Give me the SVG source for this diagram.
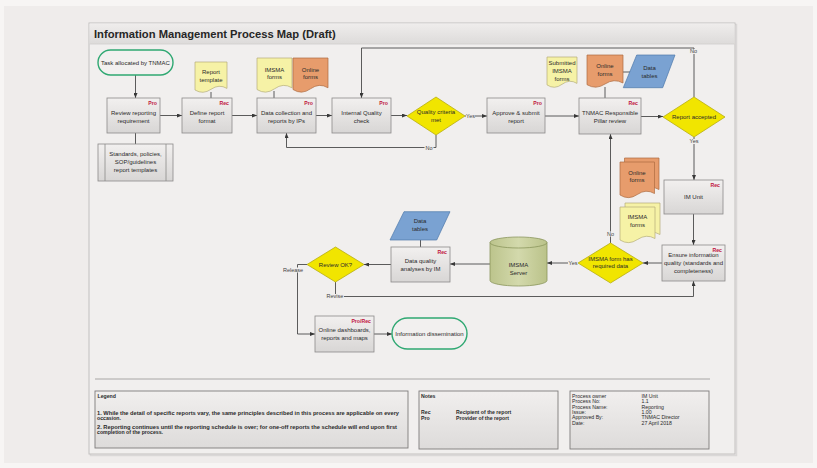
<svg xmlns="http://www.w3.org/2000/svg" width="817" height="468" viewBox="0 0 817 468">
  <defs>
    <linearGradient id="gBox" x1="0" y1="0" x2="0" y2="1">
      <stop offset="0" stop-color="#f2f0ef"/>
      <stop offset="1" stop-color="#d8d6d5"/>
    </linearGradient>
    <linearGradient id="gTitle" x1="0" y1="0" x2="0" y2="1">
      <stop offset="0" stop-color="#efedec"/>
      <stop offset="1" stop-color="#dddbda"/>
    </linearGradient>
    <linearGradient id="gFoot" x1="0" y1="0" x2="0" y2="1">
      <stop offset="0" stop-color="#f1efee"/>
      <stop offset="1" stop-color="#dddbda"/>
    </linearGradient>
    <linearGradient id="gCyl" x1="0" y1="0" x2="1" y2="0">
      <stop offset="0" stop-color="#bcc48c"/>
      <stop offset="0.5" stop-color="#d3d9ac"/>
      <stop offset="1" stop-color="#bac289"/>
    </linearGradient>
    <marker id="ah" viewBox="0 0 10 8" refX="10" refY="4" markerWidth="5" markerHeight="4" markerUnits="userSpaceOnUse" orient="auto">
      <path d="M0 0 L10 4 L0 8 Z" fill="#383838"/>
    </marker>
    <style>
      .box{fill:url(#gBox);stroke:#8c8a89;stroke-width:0.8}
      .t{font-family:"Liberation Sans",Arial,sans-serif;font-size:6px;fill:#2a2a2a;text-anchor:middle}
      .tag{font-family:"Liberation Sans",Arial,sans-serif;font-size:5.2px;font-weight:bold;fill:#c0143c;text-anchor:end}
      .ln{stroke:#4a4a4a;stroke-width:0.9;fill:none}
      .arr{marker-end:url(#ah)}
      .lbl{font-family:"Liberation Sans",Arial,sans-serif;font-size:5.5px;fill:#444;text-anchor:middle}
      .lbg{fill:#f0eeed}
      .dia{fill:#f1e500;stroke:#b8ad10;stroke-width:0.8}
      .docY{fill:#f6f2a6;stroke:#b4ae78;stroke-width:0.7}
      .docO{fill:#e79c6c;stroke:#ad6b40;stroke-width:0.7}
      .par{fill:#7aa2d2;stroke:#4e79aa;stroke-width:0.7}
      .term{fill:#f2f0ef;stroke:#2fa872;stroke-width:1.4}
      .ft{font-family:"Liberation Sans",Arial,sans-serif;font-size:5.2px;fill:#2a2a2a}
      .fb{font-weight:bold}
      .fbox{fill:url(#gFoot);stroke:#7e7c7b;stroke-width:0.9}
    </style>
  </defs>

  <!-- page -->
  <rect x="0" y="0" width="817" height="468" fill="#f7f5f4"/>
  <rect x="4" y="6" width="809" height="457" fill="#efeceb"/>

  <!-- sheet frame with title bar -->
  <rect x="90.5" y="24.5" width="646" height="431" fill="none" stroke="#dad8d7" stroke-width="1.5"/>
  <rect x="89" y="23" width="646" height="431" fill="#f1efee" stroke="#c2c0bf" stroke-width="1"/>
  <rect x="89.5" y="23.5" width="645" height="20.5" fill="url(#gTitle)"/>
  <line x1="89.5" y1="44" x2="734.5" y2="44" stroke="#d0cecd" stroke-width="0.8"/>
  <text x="94" y="37.8" font-family="Liberation Sans,Arial,sans-serif" font-size="11.2" font-weight="bold" fill="#262626">Information Management Process Map (Draft)</text>

  <!-- connectors -->
  <g id="connectors">
    <path class="ln arr" d="M135.5 75 V98"/>
    <path class="ln" d="M135.5 133 V144"/>
    <path class="ln arr" d="M160 115.5 H182"/>
    <path class="ln arr" d="M232 115.5 H257"/>
    <path class="ln arr" d="M316 115.5 H332"/>
    <path class="ln arr" d="M391 115.5 H407"/>
    <path class="ln arr" d="M465 116 H487"/>
    <path class="ln arr" d="M545 116 H579"/>
    <path class="ln arr" d="M641 116.5 H663"/>
    <path class="ln arr" d="M694 97 V48 H361.5 V98"/>
    <path class="ln arr" d="M436 135 V147.5 H286.5 V133"/>
    <path class="ln arr" d="M694 137 V180"/>
    <path class="ln arr" d="M693.5 214 V245"/>
    <path class="ln arr" d="M662 263 H643"/>
    <path class="ln arr" d="M610.5 243 V134"/>
    <path class="ln arr" d="M578 263 H547"/>
    <path class="ln arr" d="M490 264 H450"/>
    <path class="ln arr" d="M391 264.5 H364"/>
    <path class="ln arr" d="M307 264.5 H297.5 V334 H315"/>
    <path class="ln arr" d="M374 334 H392"/>
    <path class="ln arr" d="M335.5 282 V296.5 H693.5 V281"/>
    <!-- data attachments -->
    <path class="ln" d="M211 92 V98"/>
    <path class="ln" d="M274 91 V98"/>
    <path class="ln" d="M605 87 V98"/>
    <path class="ln" d="M623 72 H630"/>
    <path class="ln" d="M420.5 240 V247"/>
    <!-- connector labels -->
    <rect class="lbg" x="689" y="49" width="9" height="5"/>
    <text class="lbl" x="693.5" y="53">No</text>
    <rect class="lbg" x="466" y="113.5" width="9" height="5"/>
    <text class="lbl" x="470.5" y="117.8">Yes</text>
    <rect class="lbg" x="424.5" y="145" width="9" height="5"/>
    <text class="lbl" x="429" y="149.5">No</text>
    <rect class="lbg" x="689" y="139" width="10" height="5"/>
    <text class="lbl" x="694" y="143.3">Yes</text>
    <rect class="lbg" x="606" y="231.5" width="9" height="5"/>
    <text class="lbl" x="610.5" y="236">No</text>
    <rect class="lbg" x="568" y="260.5" width="10" height="5"/>
    <text class="lbl" x="573" y="264.8">Yes</text>
    <rect class="lbg" x="283" y="267.5" width="20" height="5"/>
    <text class="lbl" x="293" y="271.8">Release</text>
    <rect class="lbg" x="326" y="294" width="18" height="5"/>
    <text class="lbl" x="335" y="298.3">Revise</text>
  </g>

  <!-- start terminal -->
  <g id="task-allocated">
    <rect class="term" x="98" y="50" width="75" height="25" rx="12.5"/>
    <text class="t" x="135.5" y="64.5">Task allocated by TNMAC</text>
  </g>

  <g id="review-requirement">
    <rect class="box" x="107" y="98" width="53" height="35"/>
    <text class="tag" x="157" y="105">Pro</text>
    <text class="t" x="133.5" y="114.5">Review reporting</text>
    <text class="t" x="133.5" y="122.5">requirement</text>
  </g>

  <g id="standards">
    <rect class="box" x="98" y="144" width="75" height="37"/>
    <line x1="105" y1="144" x2="105" y2="181" stroke="#8c8a89" stroke-width="0.8"/>
    <line x1="166" y1="144" x2="166" y2="181" stroke="#8c8a89" stroke-width="0.8"/>
    <text class="t" x="135.5" y="156">Standards, policies,</text>
    <text class="t" x="135.5" y="164">SOP/guidelines</text>
    <text class="t" x="135.5" y="172">report templates</text>
  </g>

  <g id="report-template">
    <path class="docY" d="M195 62 H227 V88.4 Q219 83.7 211 89.3 T195 90 Z"/>
    <text class="t" x="211" y="73.8">Report</text>
    <text class="t" x="211" y="82">template</text>
  </g>

  <g id="define-format">
    <rect class="box" x="182" y="98" width="50" height="35"/>
    <text class="tag" x="229" y="105">Rec</text>
    <text class="t" x="207" y="114.5">Define report</text>
    <text class="t" x="207" y="122.5">format</text>
  </g>

  <g id="imsma-forms-ips">
    <path class="docY" d="M257 58 H292 V87.8 Q283.3 82.5 274.5 88.8 T257 89.5 Z"/>
    <text class="t" x="274.5" y="71.5">IMSMA</text>
    <text class="t" x="274.5" y="79.3">forms</text>
  </g>

  <g id="online-forms-ips">
    <path class="docO" d="M293 58 H328 V87.8 Q319.3 82.5 310.5 88.8 T293 89.5 Z"/>
    <text class="t" x="310.5" y="71.5">Online</text>
    <text class="t" x="310.5" y="79.3">forms</text>
  </g>

  <g id="data-collection">
    <rect class="box" x="257" y="98" width="59" height="35"/>
    <text class="tag" x="313" y="105">Pro</text>
    <text class="t" x="286.5" y="114.5">Data collection and</text>
    <text class="t" x="286.5" y="122.5">reports by IPs</text>
  </g>

  <g id="internal-quality">
    <rect class="box" x="332" y="98" width="59" height="35"/>
    <text class="tag" x="388" y="105">Pro</text>
    <text class="t" x="361.5" y="114.5">Internal Quality</text>
    <text class="t" x="361.5" y="122.5">check</text>
  </g>

  <g id="quality-criteria">
    <polygon class="dia" points="407,116 436,97 465,116 436,135"/>
    <text class="t" x="436" y="114.3">Quality criteria</text>
    <text class="t" x="436" y="122">met</text>
  </g>

  <g id="approve-submit">
    <rect class="box" x="487" y="98" width="58" height="35"/>
    <text class="tag" x="542" y="105">Pro</text>
    <text class="t" x="516" y="114.5">Approve &amp; submit</text>
    <text class="t" x="516" y="122.5">report</text>
  </g>

  <g id="submitted-imsma-forms">
    <path class="docY" d="M547 57 H577 V83.4 Q569.5 78.7 562 84.3 T547 84.9 Z"/>
    <text class="t" x="562" y="64.8">Submitted</text>
    <text class="t" x="562" y="72.8">IMSMA</text>
    <text class="t" x="562" y="80.8">forms</text>
  </g>

  <g id="online-forms-pillar">
    <path class="docO" d="M587 55 H623 V83 Q614 78 605 84 T587 84.7 Z"/>
    <text class="t" x="605" y="68.2">Online</text>
    <text class="t" x="605" y="76.2">forms</text>
  </g>

  <g id="data-tables-pillar">
    <polygon class="par" points="636.7,55 675,55 662.7,87.7 623.3,87.7"/>
    <text class="t" x="649.5" y="69.5">Data</text>
    <text class="t" x="649.5" y="77.8">tables</text>
  </g>

  <g id="pillar-review">
    <rect class="box" x="579" y="98" width="62" height="36"/>
    <text class="tag" x="638" y="105">Rec</text>
    <text class="t" x="610" y="114.5">TNMAC Responsible</text>
    <text class="t" x="610" y="122.5">Pillar review</text>
  </g>

  <g id="report-accepted">
    <polygon class="dia" points="663,117 694,97 725,117 694,137"/>
    <text class="t" x="694" y="118.8">Report accepted</text>
  </g>

  <g id="im-unit">
    <rect class="box" x="664" y="180" width="59" height="34"/>
    <text class="tag" x="720" y="187">Rec</text>
    <text class="t" x="693.5" y="199">IM Unit</text>
  </g>

  <g id="online-forms-stack">
    <path class="docO" d="M624.5 158 H659 V189.5 Q650.4 184.5 641.8 190.5 T624.5 191 Z"/>
    <path class="docO" d="M620 162 H654.5 V193.5 Q645.9 188.5 637.3 194.5 T620 195 Z"/>
    <text class="t" x="637" y="174.5">Online</text>
    <text class="t" x="637" y="182.2">forms</text>
  </g>

  <g id="imsma-forms-stack">
    <path class="docY" d="M625 203 H660 V234.5 Q651.3 229.5 642.5 235.5 T625 236 Z"/>
    <path class="docY" d="M620 207 H655 V238.5 Q646.3 233.5 637.5 239.5 T620 240 Z"/>
    <text class="t" x="637.5" y="219">IMSMA</text>
    <text class="t" x="637.5" y="226.7">forms</text>
  </g>

  <g id="ensure-quality">
    <rect class="box" x="662" y="245" width="63" height="36"/>
    <text class="tag" x="722" y="251.5">Rec</text>
    <text class="t" x="693.5" y="257.2">Ensure information</text>
    <text class="t" x="693.5" y="264.9">quality (standards and</text>
    <text class="t" x="693.5" y="272.5">completeness)</text>
  </g>

  <g id="imsma-required-data">
    <polygon class="dia" points="578,263 610.5,243 643,263 610.5,283"/>
    <text class="t" x="610.5" y="260.5">IMSMA form has</text>
    <text class="t" x="610.5" y="268.2">required data</text>
  </g>

  <g id="imsma-server">
    <path d="M490 242.5 A28.5 5.5 0 0 1 547 242.5 V280.5 A28.5 5.5 0 0 1 490 280.5 Z" fill="url(#gCyl)" stroke="#8a955c" stroke-width="0.8"/>
    <path d="M490 242.5 A28.5 5.5 0 0 0 547 242.5" fill="none" stroke="#8a955c" stroke-width="0.8"/>
    <text class="t" x="518.5" y="267">IMSMA</text>
    <text class="t" x="518.5" y="275">Server</text>
  </g>

  <g id="data-tables-im">
    <polygon class="par" points="404,211.7 450,211.7 436.7,240 390,240"/>
    <text class="t" x="420" y="223">Data</text>
    <text class="t" x="420" y="231">tables</text>
  </g>

  <g id="data-quality-analyses">
    <rect class="box" x="391" y="247" width="59" height="35"/>
    <text class="tag" x="447" y="254">Rec</text>
    <text class="t" x="420.5" y="263">Data quality</text>
    <text class="t" x="420.5" y="271">analyses by IM</text>
  </g>

  <g id="review-ok">
    <polygon class="dia" points="307,264.5 335.5,247 364,264.5 335.5,282"/>
    <text class="t" x="335.5" y="266.5">Review OK?</text>
  </g>

  <g id="online-dashboards">
    <rect class="box" x="315" y="316" width="59" height="36"/>
    <text class="tag" x="371" y="322.5">Pro/Rec</text>
    <text class="t" x="344.5" y="332">Online dashboards,</text>
    <text class="t" x="344.5" y="340">reports and maps</text>
  </g>

  <g id="information-dissemination">
    <rect class="term" x="392" y="318" width="75" height="31" rx="15.5"/>
    <text class="t" x="429.5" y="336">Information dissemination</text>
  </g>

  <!-- footer -->
  <line x1="95" y1="379" x2="710" y2="379" stroke="#a8a6a5" stroke-width="1"/>

  <g id="legend">
    <rect class="fbox" x="95" y="391" width="313" height="57"/>
    <text class="ft fb" x="97.5" y="397.5">Legend</text>
    <text class="ft fb" x="97" y="414.5" textLength="302" lengthAdjust="spacingAndGlyphs">1.  While the detail of specific reports vary, the same principles described in this process are applicable on every</text>
    <text class="ft fb" x="97" y="420">occasion.</text>
    <text class="ft fb" x="97" y="428.5" textLength="300" lengthAdjust="spacingAndGlyphs">2.  Reporting continues until the reporting schedule is over; for one-off reports the schedule will end upon first</text>
    <text class="ft fb" x="97" y="434">completion of the process.</text>
  </g>

  <g id="notes">
    <rect class="fbox" x="419" y="391" width="139" height="58"/>
    <text class="ft fb" x="421" y="397.5">Notes</text>
    <text class="ft fb" x="421" y="413.5">Rec</text>
    <text class="ft fb" x="456" y="413.5">Recipient of the report</text>
    <text class="ft fb" x="421" y="419.5">Pro</text>
    <text class="ft fb" x="456" y="419.5">Provider of the report</text>
  </g>

  <g id="process-info">
    <rect class="fbox" x="570" y="391" width="139" height="58"/>
    <text class="ft" x="572" y="397.6">Process owner</text>
    <text class="ft" x="572" y="403">Process No:</text>
    <text class="ft" x="572" y="408.6">Process Name:</text>
    <text class="ft" x="572" y="414.2">Issue:</text>
    <text class="ft" x="572" y="419.3">Approved By:</text>
    <text class="ft" x="572" y="424.7">Date:</text>
    <text class="ft" x="641.5" y="397.6">IM Unit</text>
    <text class="ft" x="641.5" y="403">1.1</text>
    <text class="ft" x="641.5" y="408.6">Reporting</text>
    <text class="ft" x="641.5" y="414.2">1.00</text>
    <text class="ft" x="641.5" y="419.3">TNMAC Director</text>
    <text class="ft" x="641.5" y="424.7">27 April 2018</text>
  </g>
</svg>
